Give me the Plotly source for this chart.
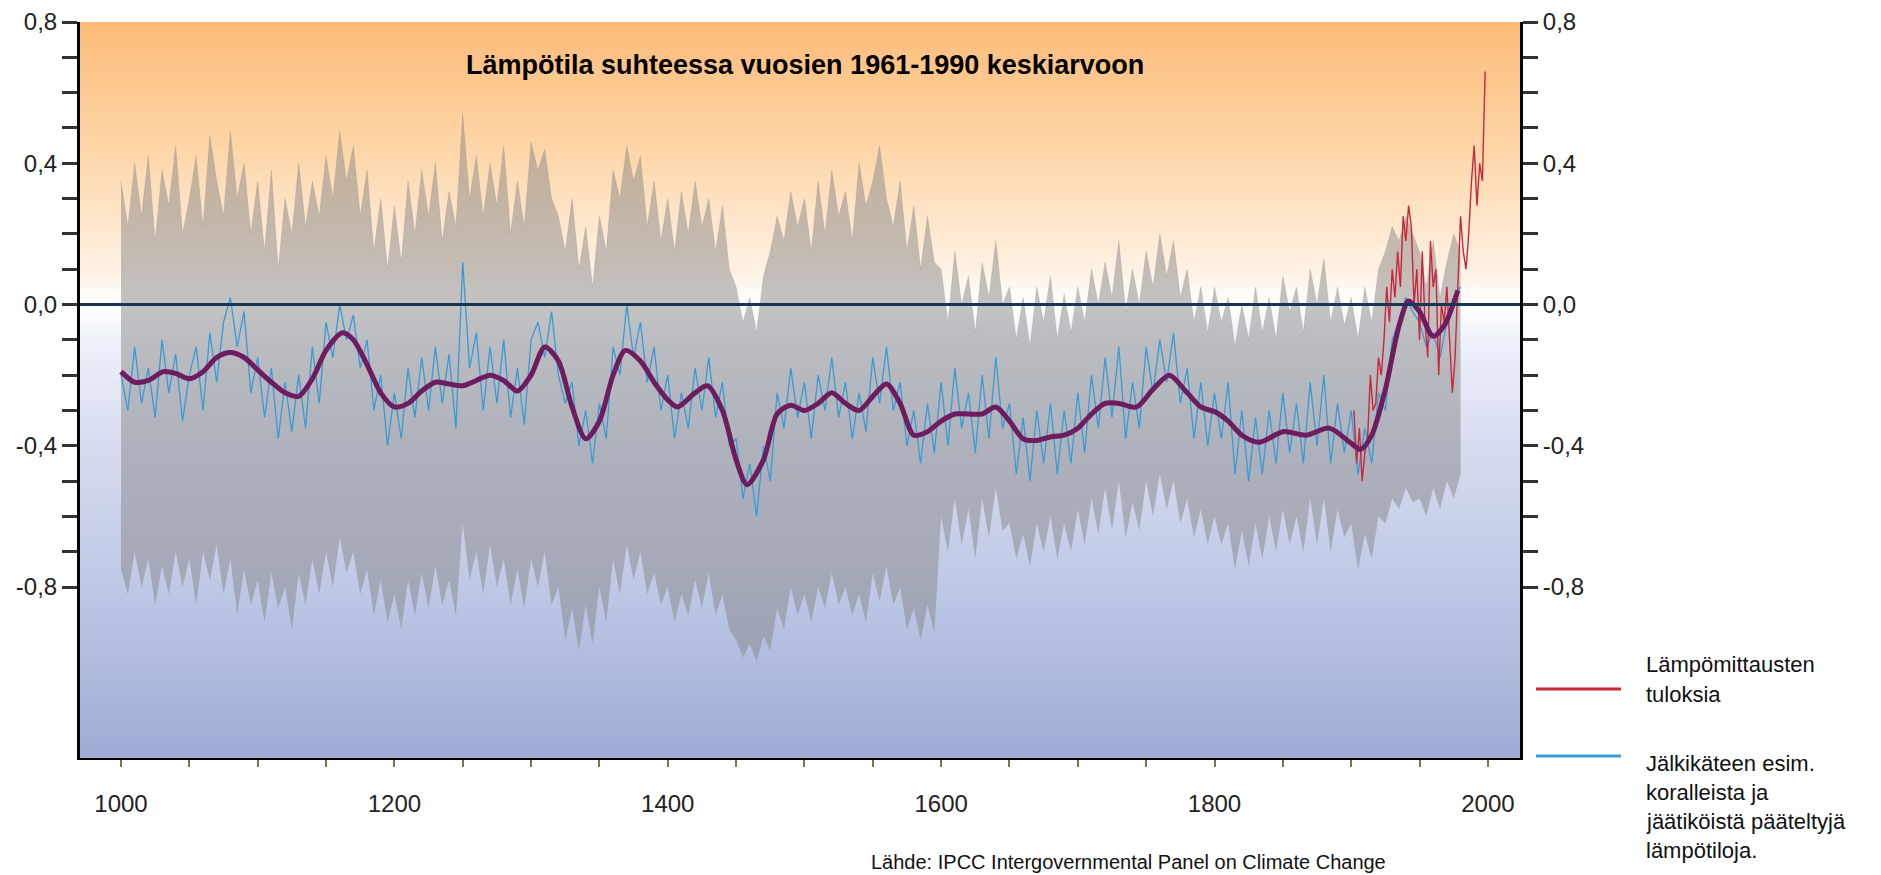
import plotly.graph_objects as go

# ---------------- data ----------------
# annual reconstruction (blue), sampled every 5 years 1000..1980
recon_years = list(range(1000, 1981, 5))
recon_vals = [
    -0.20, -0.30, -0.12, -0.28, -0.18, -0.32, -0.10, -0.25, -0.14, -0.33, -0.20, -0.12, -0.30, -0.08, -0.22, -0.05, 0.02, -0.12, -0.02, -0.25,
    -0.15, -0.32, -0.18, -0.38, -0.22, -0.36, -0.20, -0.35, -0.12, -0.28, -0.05, -0.15, 0.00, -0.10, -0.03, -0.18, -0.10, -0.30, -0.20, -0.40,
    -0.25, -0.38, -0.18, -0.32, -0.15, -0.30, -0.12, -0.28, -0.14, -0.35, 0.12, -0.18, -0.08, -0.30, -0.12, -0.28, -0.10, -0.32, -0.18, -0.34,
    -0.10, -0.05, -0.15, -0.02, -0.20, -0.28, -0.22, -0.40, -0.30, -0.45, -0.28, -0.38, -0.12, -0.20, 0.00, -0.15, -0.05, -0.22, -0.12, -0.30,
    -0.20, -0.38, -0.25, -0.35, -0.18, -0.30, -0.15, -0.32, -0.22, -0.40, -0.38, -0.55, -0.45, -0.60, -0.40, -0.50, -0.25, -0.35, -0.18, -0.32,
    -0.22, -0.38, -0.20, -0.30, -0.15, -0.32, -0.22, -0.38, -0.25, -0.36, -0.15, -0.28, -0.12, -0.30, -0.22, -0.40, -0.30, -0.45, -0.28, -0.42,
    -0.22, -0.40, -0.18, -0.35, -0.25, -0.42, -0.20, -0.38, -0.15, -0.35, -0.28, -0.48, -0.32, -0.50, -0.30, -0.45, -0.28, -0.48, -0.30, -0.45,
    -0.25, -0.42, -0.20, -0.35, -0.15, -0.32, -0.12, -0.38, -0.22, -0.35, -0.12, -0.25, -0.10, -0.22, -0.08, -0.28, -0.18, -0.38, -0.22, -0.40,
    -0.25, -0.38, -0.22, -0.48, -0.30, -0.50, -0.32, -0.48, -0.30, -0.45, -0.25, -0.42, -0.28, -0.45, -0.22, -0.40, -0.20, -0.45, -0.28, -0.42,
    -0.30, -0.48, -0.35, -0.45, -0.25, -0.30, -0.10, -0.05, 0.02, -0.02, -0.05, -0.12, -0.08, -0.15, -0.05, 0.02, 0.05,
]

# uncertainty band (grey), every 5 years 1000..1980
band_upper = [
    0.35, 0.22, 0.40, 0.25, 0.42, 0.18, 0.38, 0.28, 0.45, 0.20,
    0.30, 0.42, 0.22, 0.48, 0.35, 0.25, 0.49, 0.30, 0.40, 0.20,
    0.35, 0.15, 0.38, 0.10, 0.30, 0.20, 0.40, 0.22, 0.35, 0.25,
    0.42, 0.30, 0.49, 0.35, 0.45, 0.25, 0.38, 0.15, 0.30, 0.10,
    0.28, 0.12, 0.35, 0.20, 0.38, 0.25, 0.40, 0.18, 0.32, 0.22,
    0.54, 0.30, 0.42, 0.25, 0.40, 0.28, 0.45, 0.20, 0.35, 0.22,
    0.46, 0.38, 0.44, 0.30, 0.25, 0.15, 0.30, 0.10, 0.22, 0.05,
    0.25, 0.15, 0.38, 0.30, 0.45, 0.35, 0.42, 0.22, 0.35, 0.18,
    0.30, 0.15, 0.32, 0.20, 0.35, 0.22, 0.30, 0.15, 0.28, 0.10,
    0.05, -0.05, 0.02, -0.08, 0.08, 0.15, 0.25, 0.18, 0.32, 0.22,
    0.30, 0.15, 0.35, 0.20, 0.38, 0.25, 0.32, 0.18, 0.40, 0.28,
    0.35, 0.45, 0.30, 0.22, 0.35, 0.15, 0.28, 0.10, 0.25, 0.12,
    0.10, -0.05, 0.15, 0.00, 0.08, -0.08, 0.12, 0.02, 0.18, 0.00,
    0.05, -0.10, 0.02, -0.12, 0.05, -0.05, 0.08, -0.10, 0.03, -0.08,
    0.05, -0.05, 0.10, 0.00, 0.12, 0.02, 0.18, -0.02, 0.10, 0.00,
    0.15, 0.05, 0.20, 0.08, 0.18, 0.02, 0.10, -0.05, 0.05, -0.08,
    0.05, -0.05, 0.02, -0.12, 0.00, -0.10, 0.05, -0.08, 0.02, -0.10,
    0.08, -0.02, 0.05, -0.08, 0.10, 0.00, 0.13, -0.05, 0.05, -0.06,
    0.02, -0.10, 0.05, -0.05, 0.10, 0.15, 0.22, 0.18, 0.25, 0.20,
    0.15, 0.05, 0.18, 0.02, 0.12, 0.20, 0.15,
]
band_lower = [
    -0.75, -0.82, -0.70, -0.80, -0.72, -0.85, -0.74, -0.82, -0.70, -0.80,
    -0.72, -0.85, -0.70, -0.78, -0.68, -0.82, -0.72, -0.88, -0.75, -0.85,
    -0.78, -0.90, -0.76, -0.86, -0.80, -0.92, -0.76, -0.85, -0.72, -0.82,
    -0.70, -0.80, -0.66, -0.76, -0.70, -0.82, -0.75, -0.88, -0.78, -0.90,
    -0.82, -0.92, -0.78, -0.88, -0.76, -0.86, -0.74, -0.85, -0.78, -0.88,
    -0.62, -0.78, -0.70, -0.82, -0.68, -0.80, -0.72, -0.85, -0.75, -0.86,
    -0.72, -0.80, -0.70, -0.85, -0.80, -0.95, -0.86, -0.98, -0.85, -0.96,
    -0.80, -0.90, -0.72, -0.82, -0.68, -0.78, -0.70, -0.82, -0.76, -0.85,
    -0.80, -0.90, -0.82, -0.88, -0.78, -0.86, -0.76, -0.88, -0.82, -0.92,
    -0.95, -1.00, -0.96, -1.01, -0.94, -0.98, -0.86, -0.92, -0.80, -0.88,
    -0.82, -0.90, -0.80, -0.86, -0.76, -0.85, -0.80, -0.88, -0.82, -0.90,
    -0.76, -0.84, -0.74, -0.85, -0.80, -0.92, -0.86, -0.95, -0.85, -0.93,
    -0.60, -0.70, -0.55, -0.68, -0.58, -0.72, -0.55, -0.66, -0.52, -0.64,
    -0.62, -0.72, -0.65, -0.74, -0.62, -0.70, -0.60, -0.72, -0.62, -0.70,
    -0.58, -0.68, -0.55, -0.65, -0.52, -0.64, -0.50, -0.66, -0.56, -0.64,
    -0.50, -0.60, -0.48, -0.58, -0.50, -0.62, -0.55, -0.66, -0.58, -0.68,
    -0.60, -0.68, -0.62, -0.75, -0.64, -0.74, -0.62, -0.72, -0.60, -0.70,
    -0.58, -0.68, -0.60, -0.70, -0.55, -0.68, -0.55, -0.70, -0.58, -0.66,
    -0.62, -0.75, -0.65, -0.72, -0.60, -0.62, -0.55, -0.58, -0.52, -0.56,
    -0.55, -0.60, -0.52, -0.58, -0.50, -0.55, -0.48,
]

# smoothed reconstruction (purple)
smooth_years = [1000, 1010, 1020, 1031, 1040, 1050, 1060, 1070, 1080, 1090, 1100, 1110, 1120, 1130, 1140, 1150,
                1162, 1170, 1180, 1190, 1200, 1210, 1220, 1230, 1240, 1250, 1260, 1270, 1280, 1290, 1300, 1310,
                1320, 1330, 1340, 1350, 1360, 1369, 1380, 1390, 1400, 1407, 1420, 1429, 1440, 1450, 1458, 1470,
                1480, 1490, 1500, 1510, 1520, 1530, 1540, 1550, 1560, 1570, 1580, 1590, 1600, 1610, 1620, 1630,
                1640, 1650, 1660, 1670, 1680, 1690, 1700, 1710, 1720, 1730, 1743, 1755, 1767, 1780, 1790, 1801,
                1810, 1820, 1833, 1850, 1867, 1884, 1899, 1907, 1915, 1925, 1935, 1942, 1950, 1960, 1968, 1978]
smooth_vals = [-0.19, -0.22, -0.215, -0.19, -0.195, -0.21, -0.19, -0.15, -0.136, -0.15, -0.185, -0.22, -0.25, -0.26, -0.21, -0.13,
               -0.08, -0.10, -0.17, -0.25, -0.29, -0.28, -0.245, -0.22, -0.225, -0.23, -0.215, -0.20, -0.215, -0.245, -0.20, -0.12,
               -0.16, -0.29, -0.38, -0.33, -0.20, -0.13, -0.16, -0.22, -0.27, -0.29, -0.25, -0.23, -0.30, -0.44, -0.51, -0.44,
               -0.31, -0.285, -0.30, -0.28, -0.25, -0.28, -0.30, -0.26, -0.225, -0.28, -0.37, -0.36, -0.33, -0.31, -0.31, -0.31,
               -0.29, -0.33, -0.38, -0.385, -0.375, -0.37, -0.35, -0.31, -0.28, -0.28, -0.29, -0.24, -0.20, -0.25, -0.29, -0.305,
               -0.33, -0.37, -0.39, -0.36, -0.37, -0.35, -0.39, -0.41, -0.37, -0.24, -0.06, 0.01, -0.02, -0.09, -0.06, 0.04]

# instrumental record (red), every 2 years 1902..1998
instr_years = list(range(1902, 1999, 2))
instr_vals = [-0.30, -0.45, -0.35, -0.50, -0.42, -0.38, -0.20, -0.30, -0.28, -0.15,
              -0.20, -0.10, 0.05, -0.05, 0.10, 0.02, 0.15, 0.05, 0.25, 0.18,
              0.28, 0.22, 0.00, 0.10, -0.10, 0.15, -0.05, -0.15, 0.18, 0.05,
              0.10, -0.20, 0.00, -0.05, 0.05, -0.10, -0.25, -0.15, 0.05, 0.25,
              0.15, 0.10, 0.20, 0.35, 0.45, 0.28, 0.40, 0.35, 0.66]

y_tick_vals = [0.8, 0.7, 0.6, 0.5, 0.4, 0.3, 0.2, 0.1, 0.0, -0.1, -0.2, -0.3, -0.4, -0.5, -0.6, -0.7, -0.8]
y_tick_text = ["0,8", "", "", "", "0,4", "", "", "", "0,0", "", "", "", "-0,4", "", "", "", "-0,8"]
x_tick_vals = list(range(1000, 2001, 50))
x_tick_text = [str(v) if v % 200 == 0 else "" for v in x_tick_vals]

# background gradient (value level -> colour)
bg_levels = [-1.30, -0.80, -0.40, -0.10, 0.0, 0.10, 0.40, 0.82]
bg_colors = ["#9eaad5", "#bec8e6", "#d6dcf0", "#eef1fa", "#ffffff", "#fff1e3", "#fed9ae", "#fcba76"]

X_RANGE = [970, 2023.5]
Y_RANGE = [-1.284, 0.8]
FONT = "Liberation Sans, Arial, sans-serif"

# page body has an 8px margin: plot area placed so that it lands at
# x 80..1520, y 22..758 of the 1881x875 window
BODY = 8
PLOT_L, PLOT_R, PLOT_T, PLOT_B = 80, 1520, 22, 758
FIG_W, FIG_H = 1881 - BODY, 875 - BODY

lo, hi = bg_levels[0], bg_levels[-1]
colorscale = [[(v - lo) / (hi - lo), c] for v, c in zip(bg_levels, bg_colors)]

fig = go.Figure()
fig.add_trace(go.Heatmap(
    x=X_RANGE, y=bg_levels, z=[[v, v] for v in bg_levels],
    colorscale=colorscale, zmin=lo, zmax=hi, zsmooth="best",
    showscale=False, hoverinfo="skip"))

fig.add_trace(go.Scatter(x=recon_years, y=band_lower, mode="lines",
                         line=dict(width=0, color="rgba(0,0,0,0)"), hoverinfo="skip", showlegend=False))
fig.add_trace(go.Scatter(x=recon_years, y=band_upper, mode="lines", fill="tonexty",
                         fillcolor="rgba(135,135,135,0.5)",
                         line=dict(width=0.6, color="rgba(150,150,150,0.5)"), hoverinfo="skip", showlegend=False))
fig.add_trace(go.Scatter(x=recon_years, y=recon_vals, mode="lines",
                         line=dict(width=1.3, color="#3a9ad6"), showlegend=False))
fig.add_trace(go.Scatter(x=instr_years, y=instr_vals, mode="lines", yaxis="y2",
                         line=dict(width=1.4, color="#c8283a"), showlegend=False))
fig.add_trace(go.Scatter(x=smooth_years, y=smooth_vals, mode="lines", yaxis="y2",
                         line=dict(width=5, color="#6e1c5e", shape="spline", smoothing=0.8), showlegend=False))

axis_font = dict(family=FONT, size=24, color="#222")
yax = dict(range=Y_RANGE, showline=True, linecolor="black", linewidth=3,
           ticks="outside", ticklen=15, tickwidth=2.5, tickcolor="#333",
           tickvals=y_tick_vals, ticktext=y_tick_text, tickfont=axis_font,
           showgrid=False, zeroline=False, fixedrange=True, automargin=False)

fig.update_layout(
    width=FIG_W, height=FIG_H,
    margin=dict(l=PLOT_L - BODY, r=FIG_W - (PLOT_R - BODY), t=PLOT_T - BODY, b=FIG_H - (PLOT_B - BODY),
                autoexpand=False),
    paper_bgcolor="white", plot_bgcolor="white",
    font=dict(family=FONT),
    xaxis=dict(range=X_RANGE, showline=True, linecolor="black", linewidth=2,
               ticks="outside", ticklen=7, tickwidth=2, tickcolor="#77744e",
               tickvals=x_tick_vals, ticktext=x_tick_text, tickfont=axis_font,
               ticklabelstandoff=16, showgrid=False, zeroline=False, automargin=False),
    yaxis=yax,
    yaxis2=dict(yax, overlaying="y", side="right", matches="y"),
    showlegend=False,
)

# zero line
fig.add_shape(type="line", xref="paper", yref="y", x0=0, x1=1, y0=0, y1=0,
              line=dict(color="#163656", width=3), layer="above")


def px_x(px):
    return (px - PLOT_L) / float(PLOT_R - PLOT_L)


def px_y(py):
    return (PLOT_B - py) / float(PLOT_B - PLOT_T)


# title inside plot
fig.add_annotation(text="<b>Lämpötila suhteessa vuosien 1961-1990 keskiarvoon</b>",
                   xref="paper", yref="paper", x=px_x(805), y=px_y(65), showarrow=False,
                   xanchor="center", yanchor="middle", font=dict(family=FONT, size=27, color="black"))

# source
fig.add_annotation(text="Lähde: IPCC Intergovernmental Panel on Climate Change",
                   xref="paper", yref="paper", x=px_x(1128), y=px_y(862), showarrow=False,
                   xanchor="center", yanchor="middle", font=dict(family=FONT, size=20, color="#111"))

# custom legend
fig.add_shape(type="line", xref="paper", yref="paper", x0=px_x(1536), x1=px_x(1621),
              y0=px_y(689), y1=px_y(689), line=dict(color="#c8283a", width=3))
fig.add_shape(type="line", xref="paper", yref="paper", x0=px_x(1536), x1=px_x(1621),
              y0=px_y(756), y1=px_y(756), line=dict(color="#3a9ad6", width=3))

legend_lines = [("Lämpömittausten", 664), ("tuloksia", 694),
                ("Jälkikäteen esim.", 763), ("koralleista ja", 792),
                ("jäätiköistä pääteltyjä", 821), ("lämpötiloja.", 850)]
for txt, py in legend_lines:
    fig.add_annotation(text=txt, xref="paper", yref="paper", x=px_x(1644), y=px_y(py),
                       showarrow=False, xanchor="left", yanchor="middle",
                       font=dict(family=FONT, size=22, color="#111"))

fig.write_html("out.html")
